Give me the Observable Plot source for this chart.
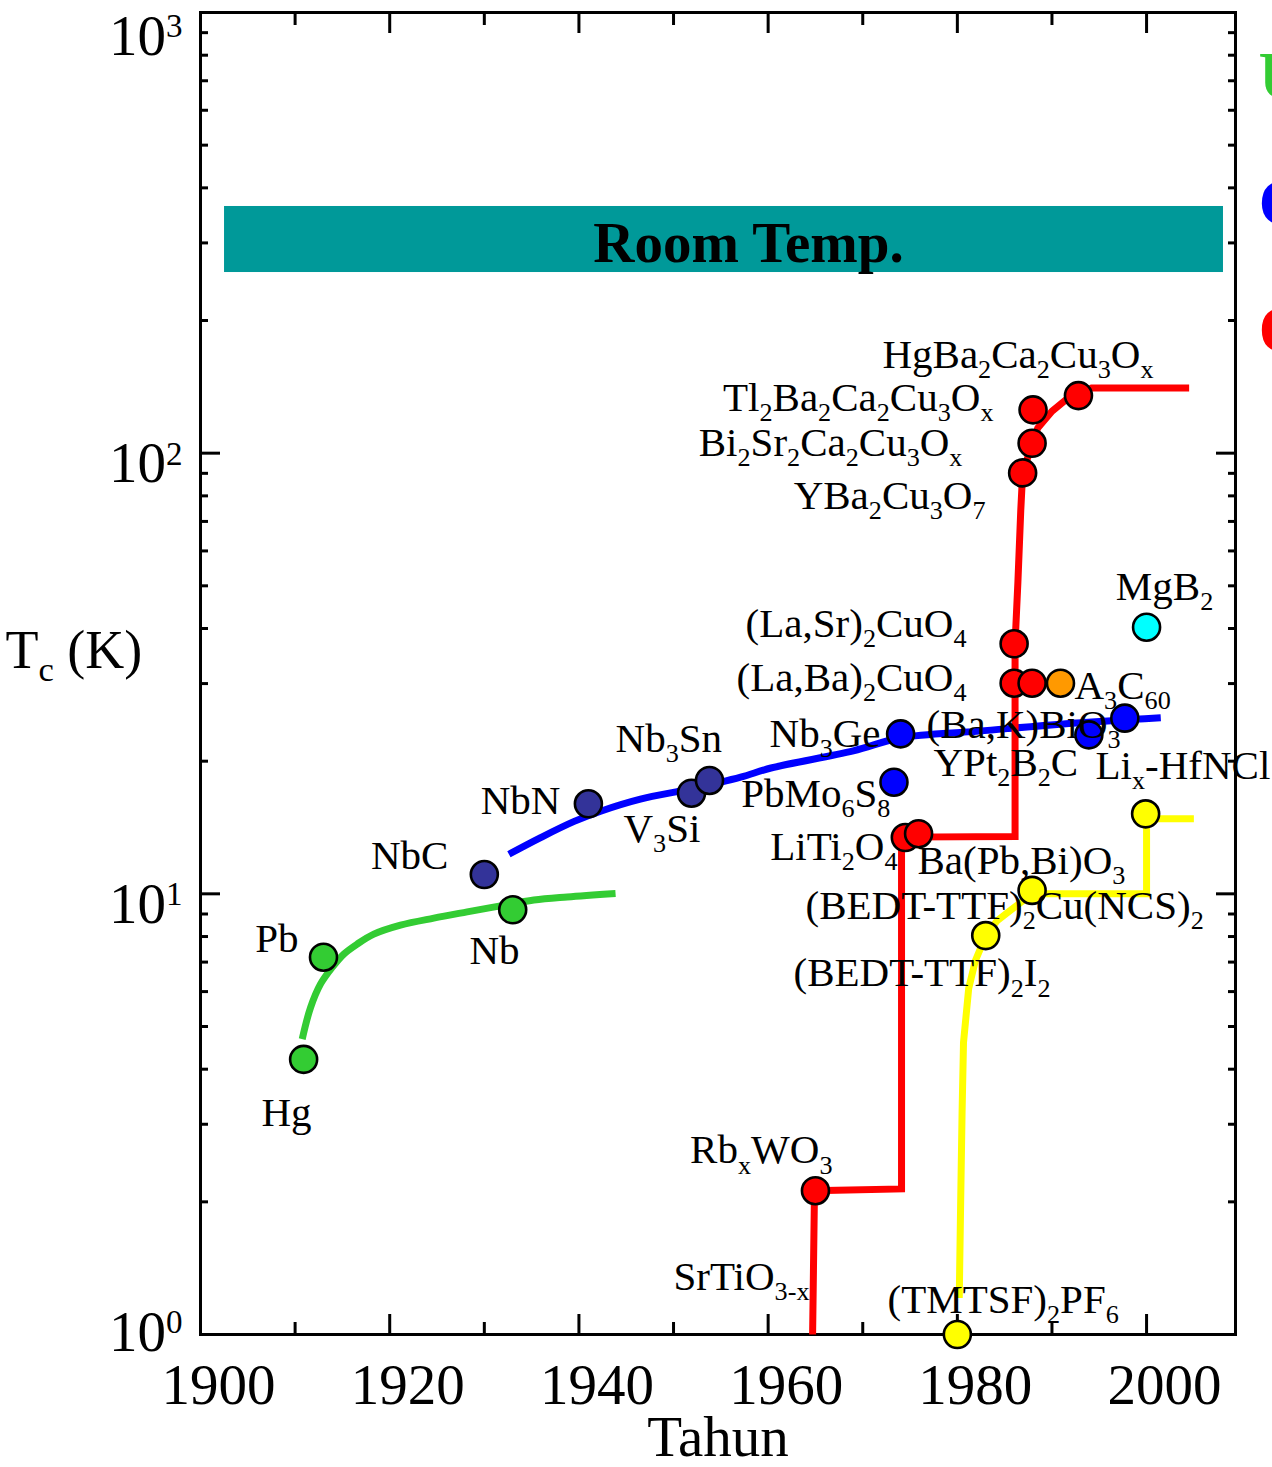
<!DOCTYPE html>
<html>
<head>
<meta charset="utf-8">
<script src="https://cdn.jsdelivr.net/npm/d3@7"></script>
<script src="https://cdn.jsdelivr.net/npm/@observablehq/plot@0.6"></script>
<style>
  body { margin: 0; background: #fff; }
  #chart svg { display: block; }
</style>
</head>
<body>
<div id="chart"></div>
<script>
// ---------- data ----------
const materials = ["Hg","Pb","Nb","NbC","NbN","V3Si","Nb3Sn","Nb3Ge","PbMo6S8","(Ba,K)BiO3","YPt2B2C","RbxWO3","LiTi2O4","Ba(Pb,Bi)O3","(La,Ba)2CuO4","(La,Ba)2CuO4 b","(La,Sr)2CuO4","YBa2Cu3O7","Bi2Sr2Ca2Cu3Ox","Tl2Ba2Ca2Cu3Ox","HgBa2Ca2Cu3Ox","A3C60","MgB2","(TMTSF)2PF6","(BEDT-TTF)2I2","(BEDT-TTF)2Cu(NCS)2","Lix-HfNCl"];
const years = [1910.9, 1913.0, 1933.0, 1930.0, 1941.0, 1951.9, 1953.8, 1974.0, 1973.3, 1997.7, 1993.9, 1965.0, 1974.5, 1975.9, 1986.0, 1987.9, 1986.0, 1986.9, 1987.9, 1988.0, 1992.8, 1990.9, 2000.0, 1980.0, 1983.0, 1987.9, 1999.9];
const tcK = [4.21, 7.18, 9.20, 11.06, 16.01, 16.92, 18.08, 23.07, 17.92, 25.04, 22.95, 2.12, 13.42, 13.69, 30.06, 30.06, 36.93, 90.2, 105.3, 125.4, 135.1, 30.06, 40.28, 1.0, 8.04, 10.18, 15.19];
const family = ["element","element","element","a15","a15","a15","a15","compound","compound","compound","compound","oxide","oxide","oxide","oxide","oxide","oxide","oxide","oxide","oxide","oxide","fullerene","boride","organic","organic","organic","nitride"];
const familyNames = ["element","a15","compound","oxide","fullerene","boride","organic","nitride"];
const familyColors = ["#33cc33","#333399","#0000ff","#ff0000","#ff9900","#00ffff","#ffff00","#ffff00"];

// trend lines [year, Tc]
const elementLine = [[1910.75,4.68],[1911.63,5.52],[1912.68,6.24],[1913.92,6.81],[1915.15,7.30],[1916.56,7.69],[1918.32,8.10],[1921.14,8.49],[1924.66,8.81],[1928.19,9.10],[1931.71,9.39],[1935.23,9.68],[1938.76,9.84],[1943.87,10.02]];
const compoundLine = [[1932.6,12.3],[1935.9,13.4],[1939.5,14.6],[1942.3,15.4],[1946.5,16.4],[1951.8,17.3],[1957.1,18.4],[1960.3,19.3],[1969.0,21.1],[1974.0,22.6],[1982.3,23.4],[1991.2,24.3],[2001.5,25.1]];
const oxideLine = [[1964.7,1.0],[1964.9,2.12],[1974.1,2.14],[1974.1,13.45],[1986.1,13.5],[1986.1,37],[1986.4,51],[1986.7,74],[1986.9,90],[1987.9,105],[1988.5,114],[1990.0,124.5],[1991.5,132.3],[1992.7,135],[1994.2,140.6],[2004.5,140.6]];
const organicLine = [[1980.2,1.21],[1980.35,2.0],[1980.5,3.2],[1980.65,4.6],[1981.2,6.1],[1981.9,7.05],[1983.0,8.03],[1984.2,8.69],[1986.0,9.31],[1987.9,10.0],[2000.0,10.0],[2000.0,14.8],[2005.0,14.8]];

// annotations
const labelText = ["Hg","Pb","Nb","NbC","NbN","V_3Si","Nb_3Sn","Nb_3Ge","PbMo_6S_8","LiTi_2O_4","Ba(Pb,Bi)O_3","(BEDT-TTF)_2Cu(NCS)_2","(BEDT-TTF)_2I_2","(TMTSF)_2PF_6","SrTiO_{3-x}","Rb_xWO_3","(La,Sr)_2CuO_4","(La,Ba)_2CuO_4","A_3C_{60}","(Ba,K)BiO_3","YPt_2B_2C","Li_x-HfNCl","MgB_2","HgBa_2Ca_2Cu_3O_x","Tl_2Ba_2Ca_2Cu_3O_x","Bi_2Sr_2Ca_2Cu_3O_x","YBa_2Cu_3O_7"];
const labelYear = [1909.09,1910.36,1931.08,1926.21,1938.05,1944.71,1943.87,1971.88,1972.93,1973.67,1975.79,1963.95,1962.68,1972.62,1964.37,1966.80,1980.97,1980.97,1992.38,1976.74,1977.48,1994.60,2001.90,2000.73,1983.82,1980.54,1982.98];
const labelTc = [3.19,7.92,7.44,12.22,16.28,14.07,22.51,23.11,16.89,12.81,11.90,9.41,6.60,1.20,1.35,2.62,41.06,30.97,29.70,24.23,19.86,19.55,49.83,167.4,133.8,105.7,80.15];
const labelAlign = ["middle","end","middle","end","end","start","start","end","end","end","start","start","start","start","end","end","end","end","start","start","start","start","middle","end","end","end","end"];

const roomTempYears = [1902.54, 2008.13];
const roomTempRange = [257.0, 362.9];
const roomTempLabel = ["Room Temp."];
const roomTempAt = [1957.92, 299.1];

const legendNames = ["Unsur","Campuran","Oksida"];
const legendColors = ["#33cc33","#0000ff","#ff0000"];

const xMajorTicks = [1900,1920,1940,1960,1980,2000];
const xMinorTicks = [1910,1930,1950,1970,1990];
const yMajorTicks = [1,10,100,1000];
const yMinorTicks = [2,3,4,5,6,7,8,9,20,30,40,50,60,70,80,90,200,300,400,500,600,700,800,900];
const xTitle = "Tahun";
const yTitle = "T_c (K)";

// ---------- chart ----------
const idx = d3.range(materials.length);
const lidx = d3.range(labelText.length);
const colorOf = f => familyColors[familyNames.indexOf(f)];
const serif = "'Liberation Serif','Times New Roman',Times,serif";

const labelMark = (anchor) => Plot.text(lidx.filter(i => labelAlign[i] === anchor), {
  x: i => labelYear[i], y: i => labelTc[i], text: i => labelText[i],
  textAnchor: anchor, fontSize: 41, fill: "black"
});

const lineMark = (pts, color, curve) => Plot.line(pts, {
  x: d => d[0], y: d => d[1], stroke: color, strokeWidth: 7,
  curve, strokeLinecap: "butt", strokeLinejoin: "miter", strokeMiterlimit: 4
});

const chart = Plot.plot({
  width: 1272, height: 1467,
  marginLeft: 200, marginRight: 37, marginTop: 12, marginBottom: 133,
  x: {domain: [1900, 2009.4]},
  y: {type: "log", domain: [1, 1000]},
  style: {fontFamily: serif, fontSize: "41px", background: "white", color: "black"},
  marks: [
    Plot.rect([0], {x1: roomTempYears[0], x2: roomTempYears[1], y1: roomTempRange[0], y2: roomTempRange[1], fill: "#009999"}),
    Plot.text(roomTempLabel, {x: roomTempAt[0], y: roomTempAt[1], text: d => d, fontSize: 57, fontWeight: "bold", fill: "black"}),
    Plot.frame({stroke: "black", strokeWidth: 3}),
    Plot.axisY({anchor: "left", ticks: yMajorTicks, tickSize: -20, strokeWidth: 3, fill: "none", label: null}),
    Plot.axisY({anchor: "left", ticks: yMinorTicks, tickSize: -8, strokeWidth: 3, fill: "none", label: null}),
    Plot.axisY({anchor: "right", ticks: yMajorTicks, tickSize: -20, strokeWidth: 3, fill: "none", label: null}),
    Plot.axisY({anchor: "right", ticks: yMinorTicks, tickSize: -8, strokeWidth: 3, fill: "none", label: null}),
    Plot.axisX({anchor: "bottom", ticks: xMajorTicks, tickSize: -20, strokeWidth: 3, fill: "none", label: null}),
    Plot.axisX({anchor: "bottom", ticks: xMinorTicks, tickSize: -12, strokeWidth: 3, fill: "none", label: null}),
    Plot.axisX({anchor: "top", ticks: xMajorTicks, tickSize: -20, strokeWidth: 3, fill: "none", label: null}),
    Plot.axisX({anchor: "top", ticks: xMinorTicks, tickSize: -12, strokeWidth: 3, fill: "none", label: null}),
    // tick labels
    Plot.text(xMajorTicks, {x: d => d, text: d => String(d), frameAnchor: "bottom", lineAnchor: "bottom", dy: 69, dx: 18, fontSize: 57}),
    Plot.text(yMajorTicks.filter(d => d === 1000), {y: d => d, text: d => "10^" + Math.round(Math.log10(d)), frameAnchor: "left", textAnchor: "end", dx: -18, dy: 24, fontSize: 57}),
    Plot.text(yMajorTicks.filter(d => d === 100 || d === 10), {y: d => d, text: d => "10^" + Math.round(Math.log10(d)), frameAnchor: "left", textAnchor: "end", dx: -18, dy: 11, fontSize: 57}),
    Plot.text(yMajorTicks.filter(d => d === 1), {y: d => d, text: d => "10^" + Math.round(Math.log10(d)), frameAnchor: "left", textAnchor: "end", dx: -18, dy: -2, fontSize: 57}),
    Plot.text([xTitle], {frameAnchor: "bottom", lineAnchor: "bottom", text: d => d, dy: 121, fontSize: 57}),
    Plot.text([yTitle], {frameAnchor: "left", text: d => d, textAnchor: "start", dx: -195, dy: -23, fontSize: 54}),
    // trend lines
    lineMark(elementLine, "#33cc33", "catmull-rom"),
    lineMark(compoundLine, "#0000ff", "catmull-rom"),
    lineMark(oxideLine, "#ff0000", "linear"),
    lineMark(organicLine, "#ffff00", "linear"),
    // points
    Plot.dot(idx, {x: i => years[i], y: i => tcK[i], r: 13.5, fill: i => colorOf(family[i]), stroke: "black", strokeWidth: 2.6}),
    // labels
    labelMark("start"), labelMark("middle"), labelMark("end"),
    // partially visible legend at right edge
    ...legendNames.map((n, i) => Plot.text([n], {frameAnchor: "top-right", lineAnchor: "top", text: d => d, textAnchor: "start", dx: 23, dy: 37 + i * 127, fontSize: 68, fontWeight: "bold", fill: legendColors[i]}))
  ]
});

document.getElementById("chart").appendChild(chart);

// render _sub and ^sup markup as tspans
function richText(root) {
  root.querySelectorAll("text").forEach(el => {
    const s = el.textContent;
    if (!/[_^]/.test(s)) return;
    const fs = parseFloat(getComputedStyle(el).fontSize) || 41;
    const segs = [];
    const re = /([_^])(\{[^}]*\}|.)|([^_^]+)/g;
    let m;
    while ((m = re.exec(s))) {
      if (m[3] !== undefined) segs.push({t: m[3], k: 0});
      else segs.push({t: m[2].replace(/^\{|\}$/g, ""), k: m[1] === "_" ? -1 : 1});
    }
    while (el.firstChild) el.removeChild(el.firstChild);
    let cur = 0;
    for (const sg of segs) {
      const ts = document.createElementNS("http://www.w3.org/2000/svg", "tspan");
      const target = sg.k === -1 ? 0.25 * fs : sg.k === 1 ? -0.31 * fs : 0;
      ts.setAttribute("dy", (target - cur).toFixed(2));
      cur = target;
      if (sg.k !== 0) ts.setAttribute("font-size", ((sg.k === -1 ? 0.64 : 0.58) * fs).toFixed(1));
      ts.textContent = sg.t;
      el.appendChild(ts);
    }
  });
}
richText(chart);
</script>
</body>
</html>
